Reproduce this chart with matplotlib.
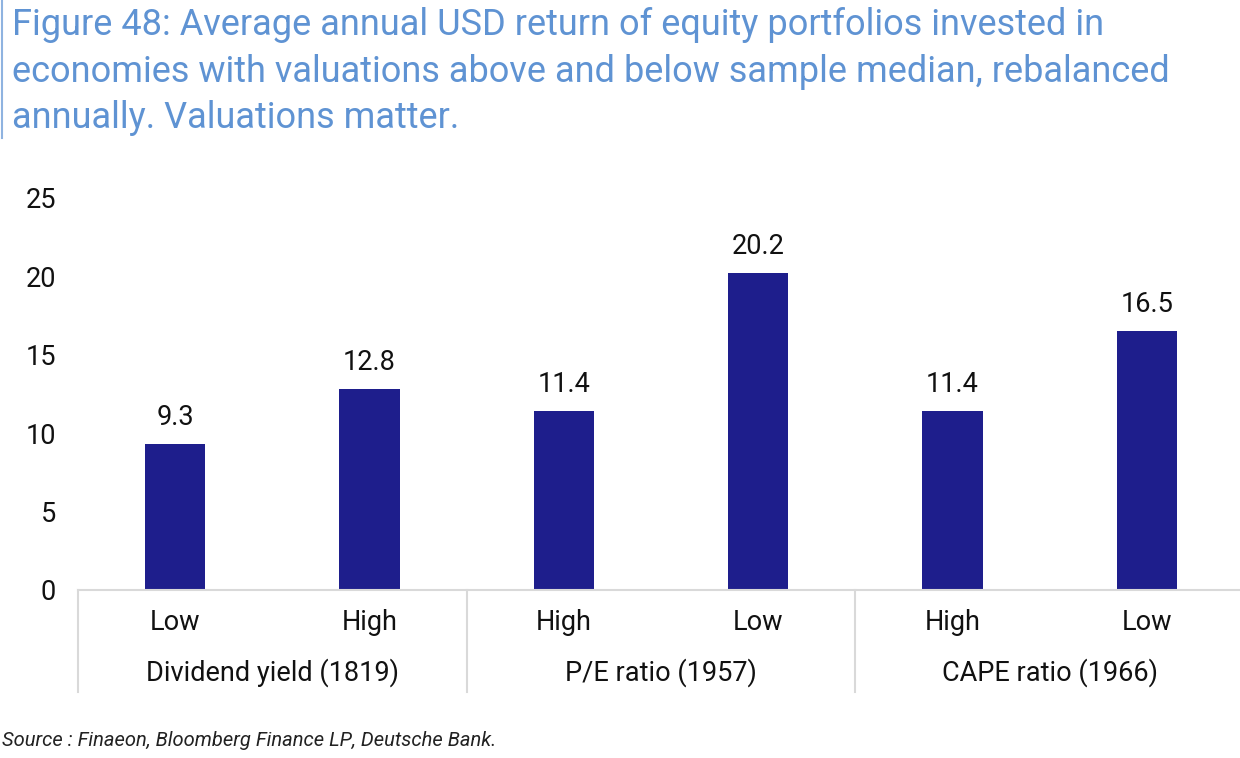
import matplotlib.pyplot as plt
import numpy as np

# data
categories = ["Low", "High", "High", "Low", "High", "Low"]
values = [9.3, 12.8, 11.4, 20.2, 11.4, 16.5]
groups = ["Dividend yield (1819)", "P/E ratio (1957)", "CAPE ratio (1966)"]
yticks = [0, 5, 10, 15, 20, 25]

title = ("Figure 48: Average annual USD return of equity portfolios invested in\n"
         "economies with valuations above and below sample median, rebalanced\n"
         "annually. Valuations matter.")
source = "Source : Finaeon, Bloomberg Finance LP, Deutsche Bank."

plt.rcParams['font.family'] = ['Roboto', 'DejaVu Sans']

W, H = 1240, 758
fs = 19.5
fig = plt.figure(figsize=(W / 100, H / 100), dpi=100)
ax = fig.add_axes([78 / W, 1 - 590 / H, (1244 - 78) / W, (590 - 198) / H])

x = np.arange(len(values))
ax.bar(x, values, width=0.31, color="#1e1e8c", zorder=2)
for xi, v in zip(x, values):
    ax.text(xi, v + 0.85, f"{v:.1f}", ha="center", va="bottom", fontsize=fs, color="#111111")

ax.set_xlim(-0.5, len(values) - 0.5)
ax.set_ylim(0, 25)
ax.set_yticks(yticks)
ax.set_yticklabels([str(t) for t in yticks], fontsize=fs, color="#111111")
ax.tick_params(axis="y", length=0, pad=16)
ax.set_xticks([])
for s in ["top", "right", "left"]:
    ax.spines[s].set_visible(False)
ax.spines["bottom"].set_color("#d9d9d9")
ax.spines["bottom"].set_linewidth(1.5)

# category labels and group labels below the axis
trans = ax.get_xaxis_transform()
px = 1 / (590 - 198)
for xi, c in zip(x, categories):
    ax.text(xi, -(622 - 590) * px, c, ha="center", va="center", fontsize=fs,
            color="#111111", transform=trans)
for gi, g in enumerate(groups):
    ax.text(2 * gi + 0.5, -(673 - 590) * px, g, ha="center", va="center", fontsize=fs,
            color="#111111", transform=trans)
for b in [-0.5, 1.5, 3.5, 5.5]:
    ax.plot([b, b], [0, -(692 - 590) * px], color="#d9d9d9", lw=1.5,
            transform=trans, clip_on=False)

# title with a vertical rule at the left
fig.text(12 / W, 1 - 7 / H, title, ha="left", va="top", fontsize=26,
         color="#5f93d3", linespacing=1.38)
fig.add_artist(plt.Line2D([2 / W, 2 / W], [1 - 0 / H, 1 - 138 / H],
                          color="#8fb3e0", lw=1.5))

fig.text(2 / W, 1 - 740 / H, source, ha="left", va="center", fontsize=14.5,
         style="italic", color="#222222")

fig.savefig("out.png", dpi=100)
